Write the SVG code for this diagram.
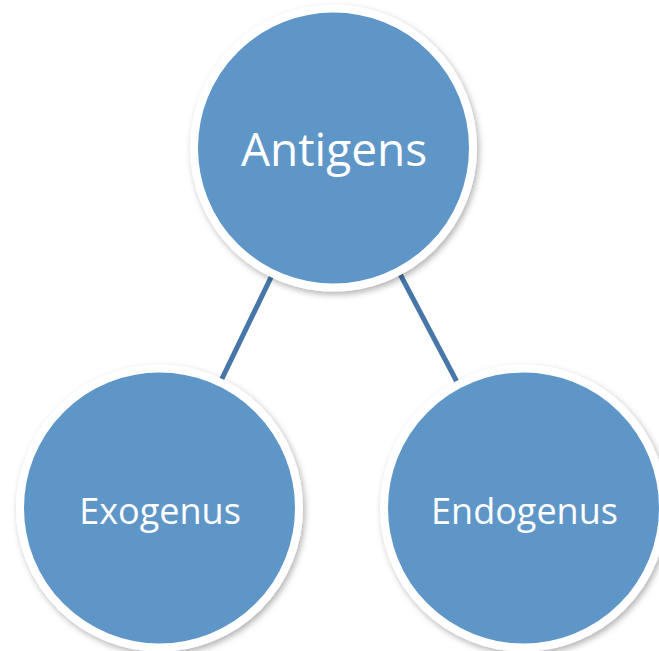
<svg xmlns="http://www.w3.org/2000/svg" width="659" height="651" viewBox="0 0 659 651">
<style>
.node{fill:#5f96c8;stroke:#ffffff;stroke-width:8;filter:url(#sh)}
.lbl{fill:#ffffff;font-family:"Open Sans","DejaVu Sans",sans-serif;text-anchor:middle}
.conn{stroke:#4677a8;stroke-width:5;fill:none}
</style>
<defs>
<filter id="sh" x="-20%" y="-20%" width="140%" height="140%">
<feDropShadow dx="2" dy="3" stdDeviation="3" flood-color="#000000" flood-opacity="0.3"/>
</filter>
</defs>
<rect width="659" height="651" fill="#ffffff"/>
<g id="connectors">
<line class="conn" x1="333.5" y1="148" x2="159.5" y2="508"/>
<line class="conn" x1="333.5" y1="148" x2="523.5" y2="508"/>
</g>
<g id="antigens">
<circle class="node" cx="333.5" cy="148" r="139.5"/>
<text class="lbl" x="334" y="166" font-size="46">Antigens</text>
</g>
<g id="exogenus">
<circle class="node" cx="159.5" cy="508" r="139.5"/>
<text class="lbl" x="160" y="524" font-size="36">Exogenus</text>
</g>
<g id="endogenus">
<circle class="node" cx="523.5" cy="508" r="139.5"/>
<text class="lbl" x="524.5" y="524" font-size="36">Endogenus</text>
</g>
</svg>
